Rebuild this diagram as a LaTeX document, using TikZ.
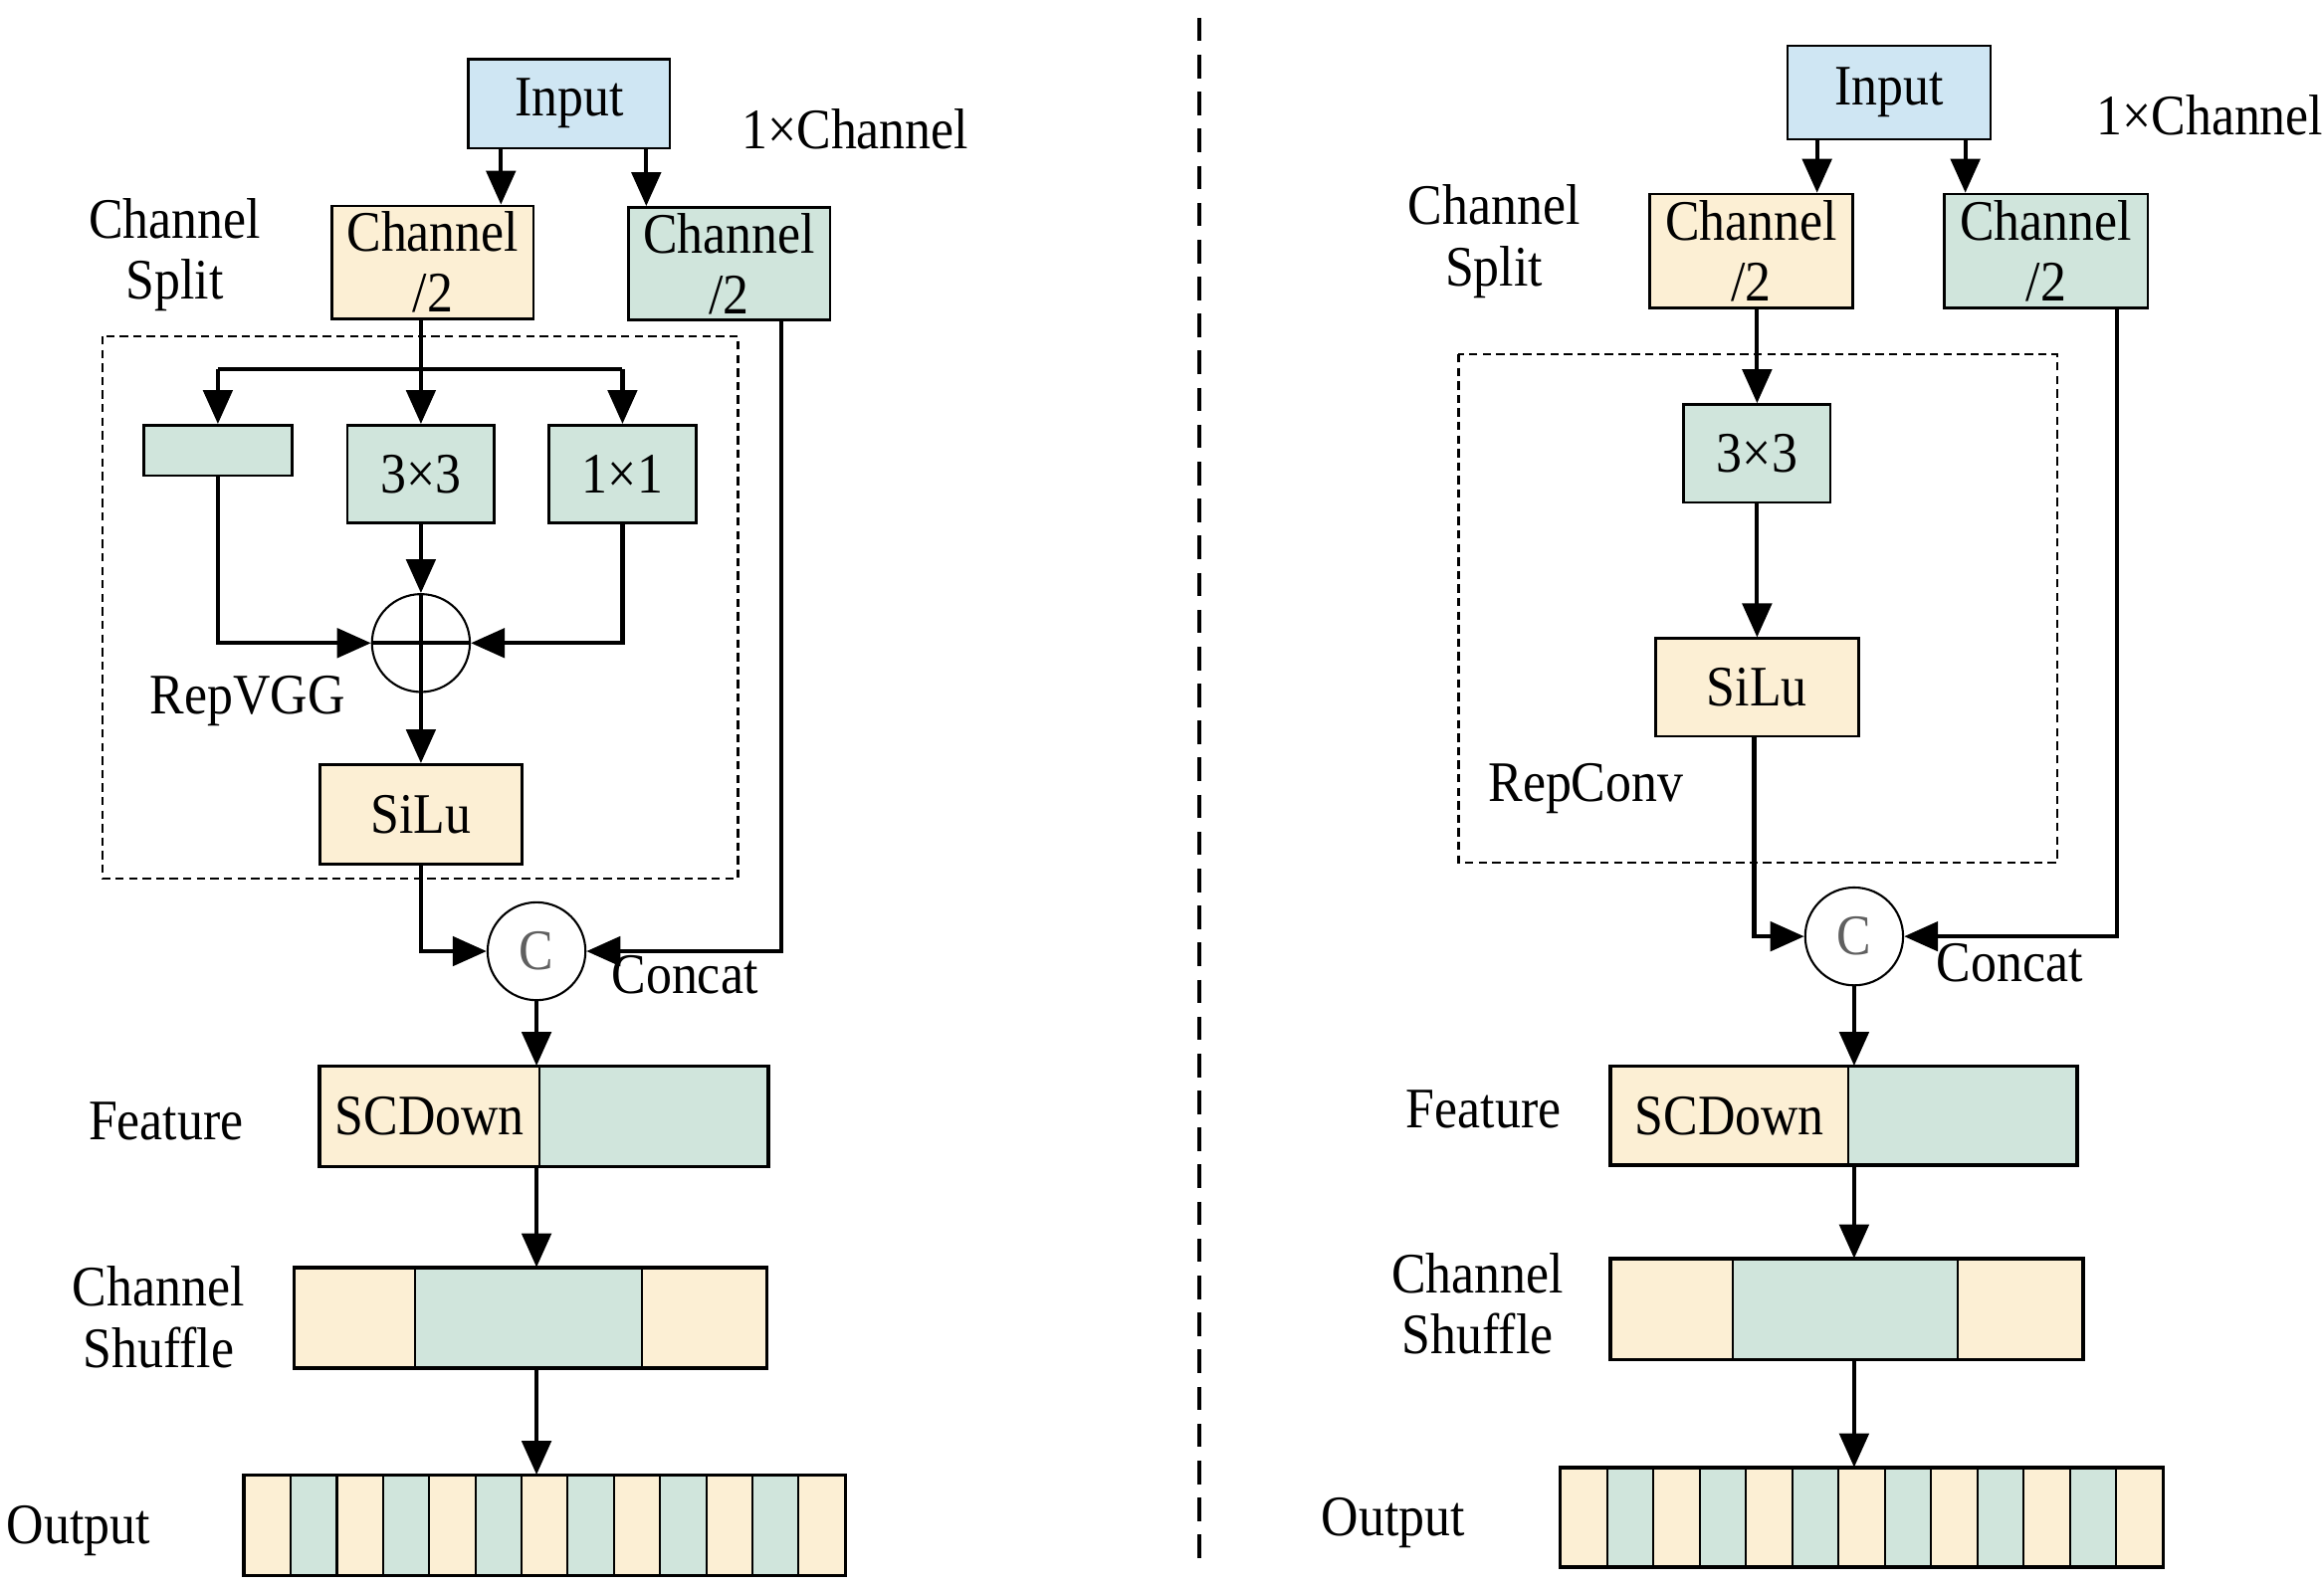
\documentclass[tikz,border=0pt]{standalone}
\usepackage{fontspec}
\setmainfont{Liberation Serif}[FakeStretch=0.9]
\usetikzlibrary{arrows.meta}
\definecolor{cbeige}{HTML}{FCEFD4}
\definecolor{cgreen}{HTML}{D0E5DC}
\definecolor{cblue}{HTML}{CFE6F3}
\definecolor{cgray}{HTML}{606060}
\tikzset{
  box/.style={draw, line width=0.5pt, inner sep=0pt, align=center},
  part/.style={draw, line width=0.4pt, inner sep=0pt, minimum height=0.67cm},
  outer/.style={draw, line width=0.55pt},
  lab/.style={inner sep=0pt, align=center},
  opnode/.style={draw, circle, line width=0.4pt, inner sep=0pt, minimum size=0.66cm, text=cgray},
  arr/.style={line width=0.8pt, -{Triangle[length=6.5pt, width=5.6pt]}},
  ln/.style={line width=0.8pt},
  dbox/.style={draw, line width=0.45pt, dash pattern=on 1.6pt off 1pt},
  divider/.style={line width=0.8pt, dash pattern=on 4.5pt off 2.6pt}
}
\begin{document}
\begin{tikzpicture}[x=0.01cm, y=-0.01cm, every node/.style={font=\fontsize{11}{11.7}\selectfont}]
\useasboundingbox (0,0) rectangle (1568,1070);

% ===================== LEFT PANEL =====================
\draw[dbox] (69,227) rectangle (498,593);
\node[box, fill=cblue, minimum width=1.36cm, minimum height=0.60cm] (inL) at (384,70) {Input};
\node[lab] (chanL) at (577,87) {1×Channel};
\node[lab] (splitL) at (118,172) {Channel\\Split};
\node[box, fill=cbeige, minimum width=1.36cm, minimum height=0.76cm] (ch1L) at (292,177) {Channel\\/2};
\node[box, fill=cgreen, minimum width=1.36cm, minimum height=0.76cm] (ch2L) at (492,178) {Channel\\/2};
\node[box, fill=cgreen, minimum width=1.00cm, minimum height=0.34cm] (idL) at (147,304) {};
\node[box, fill=cgreen, minimum width=0.99cm, minimum height=0.66cm] (k3L) at (284,320) {3×3};
\node[box, fill=cgreen, minimum width=0.99cm, minimum height=0.66cm] (k1L) at (420,320) {1×1};
\node[opnode, minimum size=0.66cm] (addL) at (284,434) {};
\node[lab] (repL) at (167,473) {RepVGG};
\node[box, fill=cbeige, minimum width=1.36cm, minimum height=0.67cm] (siluL) at (284,549.5) {SiLu};
\node[opnode] (catL) at (362,642) {C};
\node[lab] (concL) at (462,658) {Concat};

\node[lab] (featlabL) at (112,757) {Feature};
\node[part, fill=cbeige, minimum width=1.48cm] (fLa) at (290,753.5) {SCDown};
\node[part, fill=cgreen, minimum width=1.54cm] (fLb) at (441,753.5) {};
\draw[outer] (fLa.north west) rectangle (fLb.south east);

\node[lab] (shuflabL) at (107,889) {Channel\\Shuffle};
\node[part, fill=cbeige, minimum width=0.81cm] (sLa) at (239.5,889.5) {};
\node[part, fill=cgreen, minimum width=1.53cm] (sLb) at (356.5,889.5) {};
\node[part, fill=cbeige, minimum width=0.84cm] (sLc) at (475,889.5) {};
\draw[outer] (sLa.north west) rectangle (sLc.south east);

\node[lab] (outlabL) at (53,1033) {Output};
\foreach \i in {0,...,12}{
  \pgfmathtruncatemacro{\r}{mod(\i,2)}
  \ifnum\r=0 \def\col{cbeige}\else\def\col{cgreen}\fi
  \node[part, fill=\col, minimum width=0.3115cm] (oL\i) at ({180.575+31.15*\i},1029.5) {};
}
\draw[outer] (oL0.north west) rectangle (oL12.south east);

% connectors left
\draw[arr] ([xshift=-0.46cm]inL.south) -- ([xshift=-0.46cm]inL.south |- ch1L.north);
\draw[arr] ([xshift=0.52cm]inL.south) -- ([xshift=0.52cm]inL.south |- ch2L.north);
\coordinate (brL) at (284,249);
\draw[ln] (ch1L.south -| k3L.north) -- (brL);
\draw[ln] (idL.north |- brL) -- (k1L.north |- brL);
\draw[arr] (idL.north |- brL) -- (idL.north);
\draw[arr] (brL) -- (k3L.north);
\draw[arr] (k1L.north |- brL) -- (k1L.north);
\draw[arr] (idL.south) |- (addL.west);
\draw[arr] (k1L.south) |- (addL.east);
\draw[arr] (k3L.south) -- (addL.north);
\draw[arr] (addL.north) -- (siluL.north);
\draw[ln] (addL.west) -- (addL.east);
\draw[arr] (siluL.south) |- (catL.west);
\draw[arr] ([xshift=0.35cm]ch2L.south) |- (catL.east);
\draw[arr] (catL.south) -- (catL.south |- fLa.north);
\draw[arr] (catL.south |- fLa.south) -- (catL.south |- sLb.north);
\draw[arr] (catL.south |- sLb.south) -- (catL.south |- oL6.north);

% ===================== DIVIDER =====================
\draw[divider] (809,12) -- (809,1057);

% ===================== RIGHT PANEL =====================
\draw[dbox] (984,239) rectangle (1388,582);
\node[box, fill=cblue, minimum width=1.37cm, minimum height=0.63cm] (inR) at (1274.5,62.5) {Input};
\node[lab] (chanR) at (1491,78) {1×Channel};
\node[lab] (splitR) at (1008,163) {Channel\\Split};
\node[box, fill=cbeige, minimum width=1.37cm, minimum height=0.77cm] (ch1R) at (1181.5,169.5) {Channel\\/2};
\node[box, fill=cgreen, minimum width=1.37cm, minimum height=0.77cm] (ch2R) at (1380.5,169.5) {Channel\\/2};
\node[box, fill=cgreen, minimum width=0.99cm, minimum height=0.66cm] (k3R) at (1185.5,306) {3×3};
\node[box, fill=cbeige, minimum width=1.37cm, minimum height=0.66cm] (siluR) at (1185.5,464) {SiLu};
\node[lab] (repR) at (1070,532) {RepConv};
\node[opnode] (catR) at (1251,632) {C};
\node[lab] (concR) at (1356,650) {Concat};

\node[lab] (featlabR) at (1001,749) {Feature};
\node[part, fill=cbeige, minimum width=1.60cm, minimum height=0.66cm] (fRa) at (1167,753) {SCDown};
\node[part, fill=cgreen, minimum width=1.54cm, minimum height=0.66cm] (fRb) at (1324,753) {};
\draw[outer] (fRa.north west) rectangle (fRb.south east);

\node[lab] (shuflabR) at (997,880) {Channel\\Shuffle};
\node[part, fill=cbeige, minimum width=0.82cm] (sRa) at (1128,883.5) {};
\node[part, fill=cgreen, minimum width=1.52cm] (sRb) at (1245,883.5) {};
\node[part, fill=cbeige, minimum width=0.84cm] (sRc) at (1363,883.5) {};
\draw[outer] (sRa.north west) rectangle (sRc.south east);

\node[lab] (outlabR) at (940,1028) {Output};
\foreach \i in {0,...,12}{
  \pgfmathtruncatemacro{\r}{mod(\i,2)}
  \ifnum\r=0 \def\col{cbeige}\else\def\col{cgreen}\fi
  \node[part, fill=\col, minimum width=0.3123cm, minimum height=0.66cm] (oR\i) at ({1068.615+31.23*\i},1024) {};
}
\draw[outer] (oR0.north west) rectangle (oR12.south east);

% connectors right
\draw[arr] ([xshift=-0.485cm]inR.south) -- ([xshift=-0.485cm]inR.south |- ch1R.north);
\draw[arr] ([xshift=0.515cm]inR.south) -- ([xshift=0.515cm]inR.south |- ch2R.north);
\draw[arr] (ch1R.south -| k3R.north) -- (k3R.north);
\draw[arr] (k3R.south) -- (siluR.north);
\draw[arr] ([xshift=-0.02cm]siluR.south) |- (catR.west);
\draw[arr] ([xshift=0.48cm]ch2R.south) |- (catR.east);
\draw[arr] (catR.south) -- (catR.south |- fRa.north);
\draw[arr] (catR.south |- fRa.south) -- (catR.south |- sRb.north);
\draw[arr] (catR.south |- sRb.south) -- (catR.south |- oR6.north);
\end{tikzpicture}
\end{document}
